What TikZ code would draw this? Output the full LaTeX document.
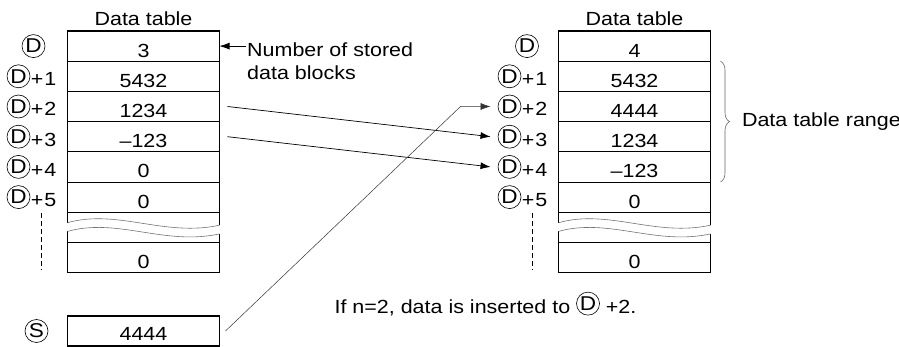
\documentclass[tikz,border=0pt]{standalone}
\usepackage{fontspec}
\setmainfont{Liberation Sans}[FakeStretch=1.13]
\usetikzlibrary{arrows.meta, positioning, decorations.pathreplacing}

\newcommand{\dmark}[1]{\tikz[baseline={([yshift=-2.5pt]dc.base)}]
  \node[circle, draw, line width=0.6pt, inner sep=0pt, minimum size=23pt,
        font=\fontsize{20}{20}\selectfont] (dc) {#1};}
\newcommand{\dlab}[1]{\dmark{D}\hspace{0.5pt}+\hspace{1pt}#1}

\begin{document}
\begin{tikzpicture}[
      x=1pt, y=-1pt, >={Latex[length=10pt,width=7pt]},
      font=\fontsize{19}{23}\selectfont,
      cell/.style={draw, line width=0.6pt, minimum width=152pt,
                   minimum height=30.2pt, inner sep=0pt, outer sep=0pt,
                   text height=22pt, text depth=0pt},
      rim/.style={line width=1.4pt},
      wave/.style={draw=black!55, line width=0.6pt},
      lab/.style={inner sep=1pt, anchor=east},
      hdr/.style={anchor=base},
      link/.style={->, line width=0.7pt},
    ]
    \useasboundingbox (0,0) rectangle (899,347);

    % left table (before)
    \node[cell] (L0) at (143.5,46.1) {3};
    \node[cell, below=0pt of L0] (L1) {5432};
    \node[cell, below=0pt of L1] (L2) {1234};
    \node[cell, below=0pt of L2] (L3) {–123};
    \node[cell, below=0pt of L3] (L4) {0};
    \node[cell, below=0pt of L4] (L5) {0};
    \node[cell, below=30.2pt of L5] (L6) {0};
    \node[hdr] (lhead) at ([yshift=5pt]L0.north) {Data table};

    \draw[rim] ([yshift=-10.5pt]L5.south west) -- (L0.north west)
      -- (L0.north east) -- ([yshift=-13pt]L5.south east);
    \draw[rim] ([yshift=11pt]L6.north west) -- (L6.south west)
      -- (L6.south east) -- ([yshift=8.5pt]L6.north east);
    \draw[wave] ([yshift=-10.5pt]L5.south west) .. controls +(50,-14) and +(-55,12) .. ([yshift=-13pt]L5.south east);
    \draw[wave] ([yshift=11pt]L6.north west) .. controls +(50,-14) and +(-55,12) .. ([yshift=8.5pt]L6.north east);

    \node (ld0) at ([xshift=-34pt]L0.west) {\dmark{D}};
    \node[lab] (ll1) at ([xshift=-10pt]L1.west) {\dlab{1}};
    \node[lab] (ll2) at ([xshift=-10pt]L2.west) {\dlab{2}};
    \node[lab] (ll3) at ([xshift=-10pt]L3.west) {\dlab{3}};
    \node[lab] (ll4) at ([xshift=-10pt]L4.west) {\dlab{4}};
    \node[lab] (ll5) at ([xshift=-10pt]L5.west) {\dlab{5}};
    \coordinate (ldash) at ([xshift=-16.5pt,yshift=-3pt]ll5.south east);
    \draw[dash pattern=on 5pt off 3pt, line width=0.6pt, shorten >=2.5pt] (ldash) -- (ldash |- L6.south);

    % source
    \node[cell, rim, text height=18pt] (S) at (143.5,331) {4444};
    \node (ls) at ([xshift=-31pt]S.west) {\dmark{S}};

    % right table (after)
    \node[cell] (R0) at (634.5,46.1) {4};
    \node[cell, below=0pt of R0] (R1) {5432};
    \node[cell, below=0pt of R1] (R2) {4444};
    \node[cell, below=0pt of R2] (R3) {1234};
    \node[cell, below=0pt of R3] (R4) {–123};
    \node[cell, below=0pt of R4] (R5) {0};
    \node[cell, below=30.2pt of R5] (R6) {0};
    \node[hdr] (rhead) at ([yshift=5pt]R0.north) {Data table};

    \draw[rim] ([yshift=-10.5pt]R5.south west) -- (R0.north west)
      -- (R0.north east) -- ([yshift=-13pt]R5.south east);
    \draw[rim] ([yshift=11pt]R6.north west) -- (R6.south west)
      -- (R6.south east) -- ([yshift=8.5pt]R6.north east);
    \draw[wave] ([yshift=-10.5pt]R5.south west) .. controls +(50,-14) and +(-55,12) .. ([yshift=-13pt]R5.south east);
    \draw[wave] ([yshift=11pt]R6.north west) .. controls +(50,-14) and +(-55,12) .. ([yshift=8.5pt]R6.north east);

    \node (rd0) at ([xshift=-31.5pt]R0.west) {\dmark{D}};
    \node[lab] (rl1) at ([xshift=-10pt]R1.west) {\dlab{1}};
    \node[lab] (rl2) at ([xshift=-10pt]R2.west) {\dlab{2}};
    \node[lab] (rl3) at ([xshift=-10pt]R3.west) {\dlab{3}};
    \node[lab] (rl4) at ([xshift=-10pt]R4.west) {\dlab{4}};
    \node[lab] (rl5) at ([xshift=-10pt]R5.west) {\dlab{5}};
    \coordinate (rdash) at ([xshift=-16.5pt,yshift=-3pt]rl5.south east);
    \draw[dash pattern=on 5pt off 3pt, line width=0.6pt, shorten >=2.5pt] (rdash) -- (rdash |- R6.south);

    % notes
    \node[anchor=north west, align=left, inner sep=1pt] (nos) at (246,42)
      {Number of stored\\data blocks};
    \draw[link] (nos.west |- L0.east) -- (L0.east);

    \draw[decorate, decoration={brace, amplitude=9pt}, draw=black!60, line width=0.6pt]
      ([xshift=10pt]R1.north east) -- ([xshift=10pt]R4.south east);
    \node[anchor=west] (range) at ([xshift=28pt]R2.south east) {Data table range};

    \node[anchor=base west] (note) at (331,313)
      {If n=2, data is inserted to \dmark{D} +2.};

    % moves
    \draw[link] ([xshift=8pt]L2.east) -- ([xshift=-6pt]rl3.west);
    \draw[link] ([xshift=8pt]L3.east) -- ([xshift=-6pt]rl4.west);
    \coordinate (bend) at ([xshift=-36pt]rl2.west);
    \draw[->, line width=0.5pt, draw=black!80] ([xshift=6pt]S.east) -- (bend) -- ([xshift=-6pt]rl2.west);
  \end{tikzpicture}
\end{document}
